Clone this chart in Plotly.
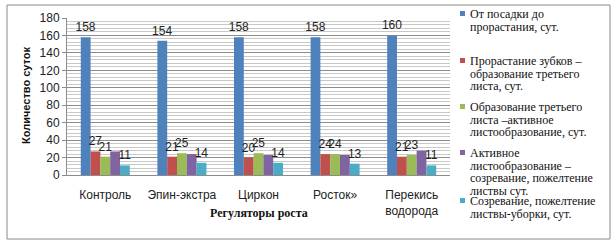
import plotly.graph_objects as go

categories = ["Контроль", "Эпин-экстра", "Циркон", "Росток»", "Перекись<br>водорода"]
legend_lines = [
    ["От посадки до", "прорастания, сут."],
    ["Прорастание зубков –", "образование третьего", "листа, сут."],
    ["Образование третьего", "листа –активное", "листообразование, сут."],
    ["Активное", "листообразование –", "созревание, пожелтение", "листвы сут."],
    ["Созревание, пожелтение", "листвы-уборки, сут."],
]
s1 = [158, 154, 158, 158, 160]
s2 = [27, 21, 20, 24, 21]
s3 = [21, 25, 25, 24, 23]
s4 = [27, 24, 23, 23, 28]
s5 = [11, 14, 14, 13, 11]
show_labels = [True, True, True, False, True]
colors = ["#4F81BD", "#C0504D", "#9BBB59", "#8064A2", "#4BACC6"]
legend_tops = [14, 61, 107, 153, 201]  # pixel row of first line of each legend entry

L, R, T, B = 67, 166, 18, 70
W, H = 616, 245
pw, ph = W - L - R, H - T - B
def px(x): return (x - L) / pw
def py(y): return (H - B - y) / ph

SERIF = "Liberation Serif, Times New Roman, DejaVu Serif, serif"
SANS = "Liberation Sans, Arial, sans-serif"

fig = go.Figure()
for i, vals in enumerate([s1, s2, s3, s4, s5]):
    fig.add_trace(go.Bar(
        x=categories, y=vals, name=" ".join(legend_lines[i]),
        marker=dict(color=colors[i], line=dict(width=0)),
        text=[str(v) for v in vals] if show_labels[i] else None,
        textposition="outside", cliponaxis=False, constraintext="none",
        textfont=dict(family=SANS, size=12, color="#222"),
    ))

fig.update_layout(
    width=W, height=H,
    margin=dict(l=L, r=R, t=T, b=B),
    paper_bgcolor="white", plot_bgcolor="white",
    barmode="group", bargap=0.36, bargroupgap=0,
    showlegend=False,
    font=dict(family=SANS, size=12, color="#222"),
)
fig.update_yaxes(range=[0, 180], dtick=20, showgrid=True, gridcolor="#8c8c8c", gridwidth=1,
                 minor=dict(dtick=4, showgrid=True, gridcolor="#c8c8c8", gridwidth=1),
                 showline=True, linecolor="#8c8c8c", ticks="outside", ticklen=4, tickcolor="#8c8c8c",
                 tickfont=dict(size=12, color="#222"), zeroline=False)
fig.update_xaxes(showline=True, linecolor="#8c8c8c", showgrid=False,
                 tickfont=dict(size=12, color="#222"), ticklabelstandoff=9)

# legend drawn manually
for i, lines in enumerate(legend_lines):
    top = legend_tops[i]
    fig.add_shape(type="rect", xref="paper", yref="paper",
                  x0=px(460), x1=px(465), y0=py(top + 2), y1=py(top - 3),
                  fillcolor=colors[i], line=dict(width=0))
    for j, line in enumerate(lines):
        fig.add_annotation(text=line, xref="paper", yref="paper",
                           x=px(468), y=py(top + j * 12.7), xanchor="left", yanchor="middle",
                           showarrow=False,
                           font=dict(family=SERIF, size=12, color="#111"))

fig.add_annotation(text="<b>Регуляторы роста</b>", xref="paper", yref="paper",
                   x=px(259), y=py(222), showarrow=False,
                   font=dict(family=SERIF, size=12, color="#111"))
fig.add_annotation(text="<b>Количество суток</b>", xref="paper", yref="paper",
                   x=px(18), y=py(96), showarrow=False, textangle=-90,
                   font=dict(family=SANS, size=11, color="#111"))
fig.add_shape(type="rect", xref="paper", yref="paper",
              x0=px(7), x1=px(610), y0=py(239), y1=py(5),
              line=dict(color="#888", width=1), layer="below")

fig.write_html("out.html", config={"displayModeBar": False},
               post_script="document.body.style.margin='0';document.body.style.overflow='hidden';")
